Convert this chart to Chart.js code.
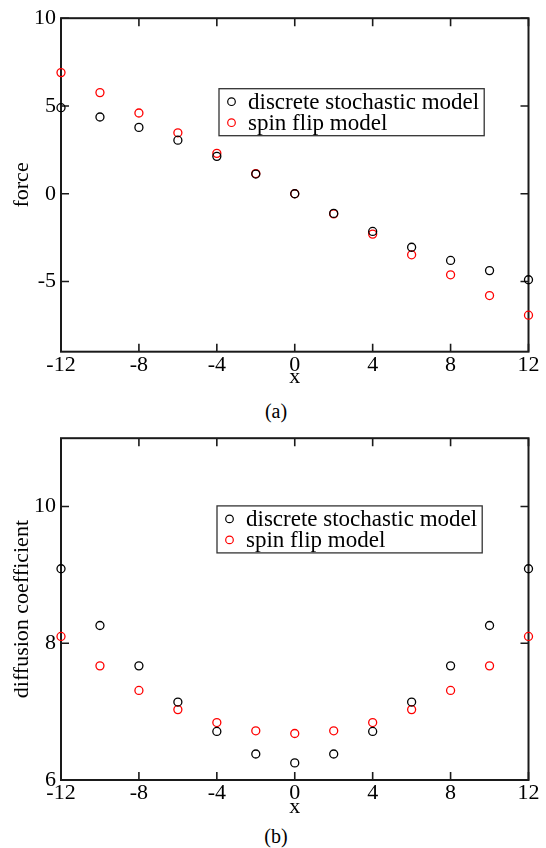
<!DOCTYPE html>
<html>
<head>
<meta charset="utf-8">
<script src="https://cdn.jsdelivr.net/npm/chart.js@4/dist/chart.umd.min.js"></script>
<style>
  body { margin: 0; background: #fff; }
  #page { position: relative; width: 546px; height: 848px; background: #fff; }
  .box { position: absolute; left: 0; width: 546px; }
  .caption { position: absolute; width: 60px; text-align: center;
             font: 20px "Liberation Serif", serif; color: #000; line-height: 20px; }
</style>
</head>
<body>
<div id="page">
  <div class="box" style="top:0;height:390px"><canvas id="forceChart"></canvas></div>
  <div class="caption" style="left:246px;top:401px">(a)</div>
  <div class="box" style="top:420px;height:400px"><canvas id="diffChart"></canvas></div>
  <div class="caption" style="left:246px;top:826px">(b)</div>
</div>
<script>
// x positions shared by both panels
const xValues = [-12, -10, -8, -6, -4, -2, 0, 2, 4, 6, 8, 10, 12];
const xTicks = [-12, -8, -4, 0, 4, 8, 12];

// panel (a): force
const forceDiscrete = [4.9, 4.37, 3.78, 3.05, 2.13, 1.12, 0, -1.12, -2.15, -3.05, -3.8, -4.38, -4.9];
const forceSpinFlip = [6.9, 5.76, 4.6, 3.47, 2.3, 1.15, 0, -1.15, -2.3, -3.48, -4.62, -5.8, -6.92];
const forceTicks = [-5, 0, 5, 10];

// panel (b): diffusion coefficient
const diffDiscrete = [9.09, 8.26, 7.67, 7.14, 6.71, 6.38, 6.25, 6.38, 6.71, 7.14, 7.67, 8.26, 9.09];
const diffSpinFlip = [8.1, 7.67, 7.31, 7.03, 6.84, 6.72, 6.68, 6.72, 6.84, 7.03, 7.31, 7.67, 8.1];
const diffTicks = [6, 8, 10];

const seriesNames = ['discrete stochastic model', 'spin flip model'];
const seriesColors = ['#000000', '#ff0000'];

const SERIF = '"Liberation Serif", "Times New Roman", serif';

//draws the plot frame and inward tick marks on all four sides
const frameTicks = {
    id: 'frameTicks',
    beforeDatasetsDraw(chart) {
        const ctx = chart.ctx;
        const a = chart.chartArea;
        const len = 8;
        ctx.save();
        ctx.strokeStyle = '#1a1a1a';
        ctx.lineWidth = 1.6;
        chart.scales.x.ticks.forEach(t => {
            const px = chart.scales.x.getPixelForValue(t.value);
            ctx.beginPath();
            ctx.moveTo(px, a.bottom); ctx.lineTo(px, a.bottom - len);
            ctx.moveTo(px, a.top); ctx.lineTo(px, a.top + len);
            ctx.stroke();
        });
        chart.scales.y.ticks.forEach(t => {
            const py = chart.scales.y.getPixelForValue(t.value);
            ctx.beginPath();
            ctx.moveTo(a.left, py); ctx.lineTo(a.left + len, py);
            ctx.moveTo(a.right, py); ctx.lineTo(a.right - len, py);
            ctx.stroke();
        });
        ctx.lineWidth = 2;
        ctx.strokeRect(a.left, a.top, a.right - a.left, a.bottom - a.top);
        ctx.restore();
    }
};

//legend box drawn inside the plot area
const insideLegend = {
    id: 'insideLegend',
    afterDatasetsDraw(chart, args, opts) {
        const ctx = chart.ctx;
        const a = chart.chartArea;
        const left = a.left + opts.dx;
        const top = a.top + opts.dy;
        ctx.save();
        ctx.font = '23px ' + SERIF;
        const textW = Math.max(...seriesNames.map(n => ctx.measureText(n).width));
        const w = 29 + textW + 5;
        const h = 47;
        ctx.fillStyle = '#fff';
        ctx.fillRect(left, top, w, h);
        ctx.strokeStyle = '#333';
        ctx.lineWidth = 1.3;
        ctx.strokeRect(left, top, w, h);
        ctx.textBaseline = 'middle';
        seriesNames.forEach((name, i) => {
            const cy = top + 13 + i * 21;
            ctx.beginPath();
            ctx.arc(left + 12.5, cy, 3.8, 0, Math.PI * 2);
            ctx.strokeStyle = seriesColors[i];
            ctx.lineWidth = 1.2;
            ctx.stroke();
            ctx.fillStyle = '#000';
            ctx.fillText(name, left + 29, cy + 1);
        });
        ctx.restore();
    }
};

function makePanel(canvasId, discrete, spinFlip, yMin, yMax, yTicks, yTitle, topPad, xAxisHeight, legendPos) {
    const toPoints = vals => xValues.map((x, i) => ({ x: x, y: vals[i] }));
    const makeSet = (vals, i) => ({
        label: seriesNames[i],
        data: toPoints(vals),
        borderColor: seriesColors[i],
        backgroundColor: 'rgba(0,0,0,0)',
        pointStyle: 'circle',
        pointRadius: 4,
        pointBorderWidth: 1.3,
        clip: false
    });
    return new Chart(document.getElementById(canvasId), {
        type: 'scatter',
        data: { datasets: [makeSet(discrete, 0), makeSet(spinFlip, 1)] },
        options: {
            responsive: true,
            maintainAspectRatio: false,
            animation: false,
            layout: { padding: { top: topPad, right: 17.5, left: 0, bottom: 0 } },
            scales: {
                x: {
                    type: 'linear',
                    min: -12, max: 12,
                    afterBuildTicks: s => { s.ticks = xTicks.map(v => ({ value: v })); },
                    afterFit: s => { s.height = xAxisHeight; },
                    grid: { display: false, drawTicks: false },
                    border: { display: false },
                    ticks: { padding: 0, color: '#000', font: { family: SERIF, size: 22 }, maxRotation: 0 },
                    title: { display: true, text: 'x', color: '#000', padding: 0,
                             font: { family: SERIF, size: 22 } }
                },
                y: {
                    type: 'linear',
                    min: yMin, max: yMax,
                    afterBuildTicks: s => { s.ticks = yTicks.map(v => ({ value: v })); },
                    afterFit: s => { s.width = 61; },
                    grid: { display: false, drawTicks: false },
                    border: { display: false },
                    ticks: { padding: 5, color: '#000', font: { family: SERIF, size: 22 } },
                    title: { display: true, text: yTitle, color: '#000', padding: { top: 9, bottom: 0 },
                             font: { family: SERIF, size: 22 } }
                }
            },
            plugins: {
                legend: { display: false },
                tooltip: { enabled: false },
                insideLegend: legendPos
            }
        },
        plugins: [frameTicks, insideLegend]
    });
}

makePanel('forceChart', forceDiscrete, forceSpinFlip, -9, 10, forceTicks, 'force', 17.5, 38.3, { dx: 158, dy: 70.5 });
makePanel('diffChart', diffDiscrete, diffSpinFlip, 6, 11, diffTicks, 'diffusion coefficient', 17.3, 40, { dx: 156, dy: 67.7 });
</script>
</body>
</html>
